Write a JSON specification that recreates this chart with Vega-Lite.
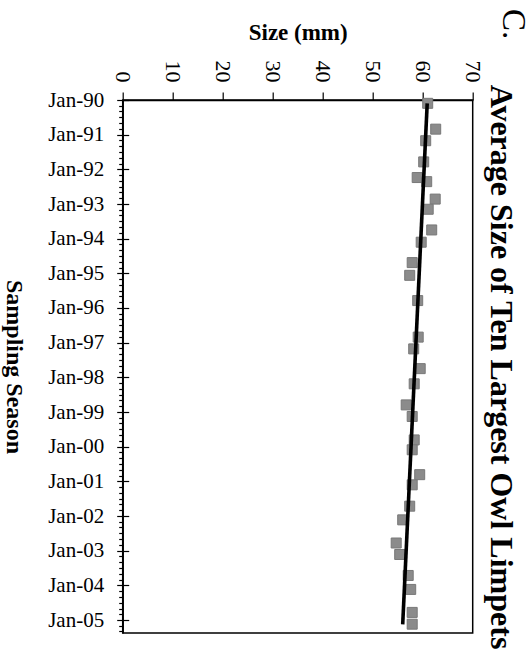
{
  "$schema": "https://vega.github.io/schema/vega-lite/v6.json",
  "width": 350,
  "height": 533,
  "autosize": {"type": "none"},
  "padding": {"left": 122.7, "top": 100, "right": 59.3, "bottom": 23},
  "background": "white",
  "config": {
    "font": "Liberation Serif",
    "view": {"stroke": "black", "strokeWidth": 1.5},
    "axis": {"domainColor": "black", "domainWidth": 1.5, "tickColor": "black", "tickWidth": 1.2, "labelColor": "black", "titleColor": "black", "grid": false}
  },
  "title": {
    "text": "C.",
    "orient": "right",
    "anchor": "start",
    "frame": "bounds",
    "angle": 90,
    "fontSize": 33,
    "fontWeight": "normal",
    "color": "black",
    "offset": -21,
    "dx": -12
  },
  "datasets": {
    "owl": [
      {"date": "1990-02-05", "size": 61.0},
      {"date": "1990-11-04", "size": 62.6},
      {"date": "1991-03-06", "size": 60.6},
      {"date": "1991-10-15", "size": 60.2},
      {"date": "1992-03-28", "size": 58.9},
      {"date": "1992-05-10", "size": 60.8},
      {"date": "1992-11-10", "size": 62.5},
      {"date": "1993-02-25", "size": 61.1},
      {"date": "1993-10-01", "size": 61.8},
      {"date": "1994-02-07", "size": 59.7},
      {"date": "1994-09-10", "size": 57.9},
      {"date": "1995-01-22", "size": 57.4},
      {"date": "1995-10-15", "size": 59.0},
      {"date": "1996-11-03", "size": 59.1},
      {"date": "1997-03-07", "size": 58.2},
      {"date": "1997-10-01", "size": 59.5},
      {"date": "1998-03-10", "size": 58.3},
      {"date": "1998-10-18", "size": 56.7},
      {"date": "1999-02-17", "size": 57.9},
      {"date": "1999-10-22", "size": 58.3},
      {"date": "2000-02-03", "size": 57.9},
      {"date": "2000-10-22", "size": 59.4},
      {"date": "2001-02-06", "size": 57.9},
      {"date": "2001-09-19", "size": 57.4},
      {"date": "2002-02-10", "size": 56.0},
      {"date": "2002-10-12", "size": 54.7},
      {"date": "2003-02-10", "size": 55.4},
      {"date": "2003-09-19", "size": 57.1},
      {"date": "2004-02-13", "size": 57.6},
      {"date": "2004-10-12", "size": 57.9},
      {"date": "2005-02-13", "size": 57.9}
    ],
    "trend": [
      {"date": "1990-02-05", "size": 60.9},
      {"date": "2005-02-15", "size": 56.0}
    ]
  },
  "layer": [
    {
      "data": {"name": "owl"},
      "mark": {"type": "square", "size": 100, "fill": "#8b8b8b", "stroke": "#787878", "strokeWidth": 1, "opacity": 1},
      "encoding": {
        "x": {
          "field": "size",
          "type": "quantitative",
          "scale": {"domain": [0, 70], "nice": false, "zero": true},
          "axis": {
            "orient": "top",
            "values": [0, 10, 20, 30, 40, 50, 60, 70],
            "labelAngle": 90,
            "labelAlign": "right",
            "labelBaseline": "middle",
            "labelFontSize": 22,
            "labelPadding": 10,
            "tickSize": 8,
            "title": "Size (mm)",
            "titleFontSize": 23,
            "titleFontWeight": "bold",
            "titlePadding": 16
          }
        },
        "y": {
          "field": "date",
          "type": "temporal",
          "scale": {
            "type": "utc",
            "reverse": true,
            "domain": [631152000000, 1116288000000]
          },
          "axis": {
            "orient": "left",
            "tickCount": {"interval": "month", "step": 2},
            "labelExpr": "utcmonth(datum.value) == 0 ? utcFormat(datum.value, '%b-%y') : ''",
            "labelOverlap": false,
            "labelFontSize": 21,
            "labelAlign": "right",
            "labelBaseline": "middle",
            "labelPadding": 13,
            "tickSize": {"condition": {"test": "utcmonth(datum.value) == 0", "value": 6}, "value": 4},
            "grid": true,
            "gridColor": "black",
            "gridWidth": 1.2,
            "gridDash": [6, 1000],
            "gridOpacity": {"condition": {"test": "utcmonth(datum.value) == 0", "value": 1}, "value": 0},
            "title": "Sampling Season",
            "titleAngle": 90,
            "titleBaseline": "top",
            "titleFontSize": 24,
            "titleFontWeight": "bold",
            "titlePadding": 22
          }
        }
      }
    },
    {
      "data": {"name": "trend"},
      "mark": {"type": "line", "color": "black", "strokeWidth": 3.6},
      "encoding": {
        "x": {"field": "size", "type": "quantitative"},
        "y": {
          "field": "date",
          "type": "temporal",
          "axis": {
            "orient": "right",
            "labels": false,
            "ticks": false,
            "domain": false,
            "grid": false,
            "title": "Average Size of Ten Largest Owl Limpets",
            "titleFontSize": 32,
            "titleFontWeight": "bold",
            "titlePadding": 11
          }
        }
      }
    }
  ],
  "resolve": {"axis": {"y": "independent"}}
}
